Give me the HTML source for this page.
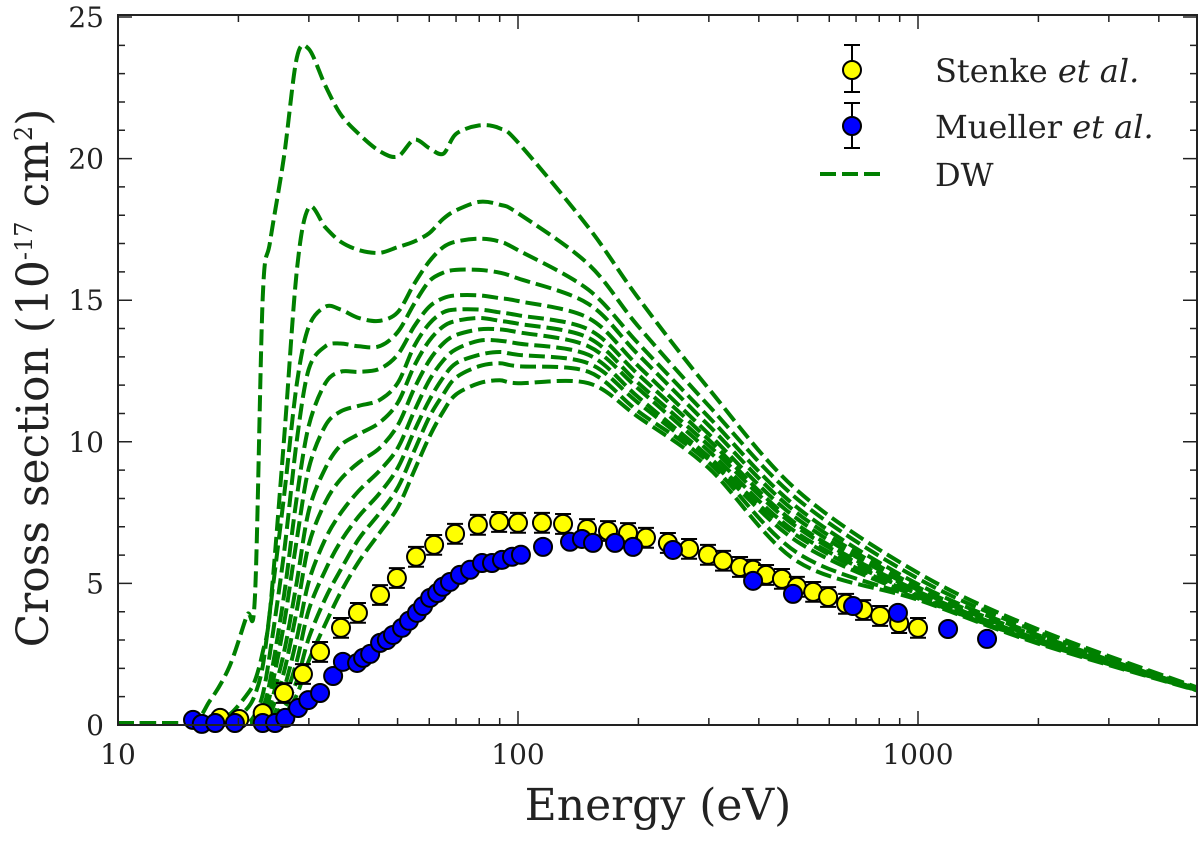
<!DOCTYPE html>
<html><head><meta charset="utf-8"><style>
body{margin:0;background:#fff}
svg text{font-family:"DejaVu Serif","Liberation Serif",serif;fill:#222}
</style></head><body>
<svg id="c" width="1200" height="845" viewBox="0 0 1200 845"></svg>
<script>
const gridE=[10,15,17,19,21,22,23,24,26,28,30,33,36,40,45,50,55,60,65,70,80,90,100,150,200,300,500,1000,2000,5000];
const dwA=[0,0,0.8,2,3.8,4.5,15,17,20,23.5,23.8,22.5,21.5,20.8,20.2,20,20.6,20.3,20.1,20.8,21.1,21,20.5,17.5,15,11.8,8.2,5.3,3.3,1.25];
const dwB=[0,0,0,0.3,1,1.5,2.5,4,10,16,18.2,17.5,17,16.7,16.6,16.8,17,17.3,17.8,18.1,18.4,18.3,18.0,16.2,14,11.2,7.9,5.1,3.2,1.22];
const dwC=[0,0,0,0,0.5,1,2,4,8,12,14,14.7,14.6,14.3,14.2,14.5,15.5,16.3,16.8,17,17.1,17,16.7,15.3,13.4,10.8,7.6,4.9,3.1,1.2];
const dwD=[0,0,0,0,0,0.3,1,2.5,6,10,12.5,13.3,13.4,13.3,13.3,13.8,14.8,15.6,15.9,16,16,15.9,15.7,14.8,13,10.5,7.4,4.8,3.05,1.2];
const dwE=[0,0,0,0,0,0,0.5,1.5,4.5,8,10.5,12,12.4,12.4,12.5,13,14,14.7,15,15.1,15.1,15,14.9,14.3,12.6,10.2,7.2,4.7,3.0,1.18];
const dwF=[0,0,0,0,0,0,0.3,1,3.5,6.5,9,10.5,11,11.2,11.4,12,13.3,14.1,14.5,14.6,14.6,14.5,14.4,13.9,12.3,10,7.0,4.65,2.95,1.18];
const dwG=[0,0,0,0,0,0,0,0.6,2.5,5,7.5,9,9.8,10.2,10.6,11.3,12.6,13.5,14,14.2,14.3,14.2,14.1,13.6,12,9.8,6.9,4.6,2.95,1.17];
const dwH=[0,0,0,0,0,0,0,0.3,1.8,4,6.3,7.8,8.6,9.2,9.7,10.5,11.8,12.8,13.4,13.7,13.9,13.9,13.8,13.3,11.8,9.6,6.7,4.55,2.9,1.16];
const dwI=[0,0,0,0,0,0,0,0,1.2,3,5,6.5,7.4,8.2,8.9,9.7,11,12.1,12.8,13.2,13.5,13.5,13.4,13,11.5,9.4,6.6,4.5,2.9,1.16];
const dwJ=[0,0,0,0,0,0,0,0,0.8,2.2,4,5.4,6.4,7.3,8.1,9,10.3,11.4,12.2,12.7,13,13.1,13,12.7,11.3,9.3,6.4,4.45,2.85,1.15];
const dwK=[0,0,0,0,0,0,0,0,0.5,1.5,3,4.4,5.4,6.5,7.4,8.3,9.6,10.8,11.6,12.2,12.6,12.7,12.6,12.4,11.0,9.2,6.0,4.4,2.85,1.15];
const dwL=[0,0,0,0,0,0,0,0,0.3,1,2.2,3.5,4.6,5.7,6.7,7.6,8.9,10.1,11,11.6,12,12.1,12,12,10.8,9.0,5.7,4.35,2.8,1.14];
const stenkeE=[18,20.1,23,26,29,32,36.1,39.8,45.2,49.8,55.6,61.7,69.6,79.4,89.7,100,114.8,129.6,148.8,167.9,188.4,208.9,237,267.7,298.5,325.5,359,387,417,457,498,547,596,661,729,804,897,1000];
const stenkeV=[0.25,0.21,0.42,1.13,1.8,2.58,3.43,3.96,4.59,5.19,5.94,6.36,6.75,7.07,7.17,7.14,7.14,7.1,6.92,6.85,6.78,6.61,6.43,6.22,6.01,5.8,5.58,5.48,5.3,5.16,4.88,4.7,4.52,4.28,4.06,3.85,3.6,3.43];
const muellerE=[15.4,16.2,17.5,19.6,23,24.7,26.2,28.2,29.9,32,34.5,36.5,39.6,41,42.7,45.2,47,48.7,51.3,53.4,55.9,57.9,60.3,62.8,64.9,67.6,71.6,75.9,81.3,86.1,91.2,96.6,101.7,115.5,134.9,144.5,154,174.8,193.9,244,387,487,688,891,1189,1488];
const muellerV=[0.18,0.04,0.07,0.07,0.07,0.07,0.25,0.6,0.88,1.13,1.73,2.23,2.19,2.37,2.51,2.9,3.0,3.18,3.43,3.68,3.96,4.2,4.49,4.66,4.88,5.05,5.3,5.48,5.72,5.72,5.83,5.94,6.01,6.29,6.47,6.57,6.43,6.43,6.29,6.18,5.09,4.63,4.2,3.96,3.39,3.04];
const yTicks=[0,5,10,15,20,25];
const xTicks=[10,100,1000];
const X0=118,X1=1197,Y0=725,Y1=17;
const sx=e=>X0+400*(Math.log10(e)-1);
const sy=v=>Y0-(Y0-Y1)*v/25;
const svg=document.getElementById('c');const NS='http://www.w3.org/2000/svg';
function mk(t,a,p){const e=document.createElementNS(NS,t);for(const k in a)e.setAttribute(k,a[k]);(p||svg).appendChild(e);return e;}
function smooth(pts){let d='M'+pts[0][0].toFixed(1)+','+pts[0][1].toFixed(1);
 for(let i=0;i<pts.length-1;i++){const p0=pts[Math.max(0,i-1)],p1=pts[i],p2=pts[i+1],p3=pts[Math.min(pts.length-1,i+2)];
  const t=0.16;const c1=[p1[0]+(p2[0]-p0[0])*t,p1[1]+(p2[1]-p0[1])*t],c2=[p2[0]-(p3[0]-p1[0])*t,p2[1]-(p3[1]-p1[1])*t];
  d+=`C${c1[0].toFixed(1)},${c1[1].toFixed(1)} ${c2[0].toFixed(1)},${c2[1].toFixed(1)} ${p2[0].toFixed(1)},${p2[1].toFixed(1)}`;}
 return d;}
const clip=mk('clipPath',{id:'pc'});mk('rect',{x:X0,y:Y1-10,width:X1-X0,height:Y0-Y1+10},clip);
const gC=mk('g',{'clip-path':'url(#pc)'});


[dwA,dwB,dwC,dwD,dwE,dwF,dwG,dwH,dwI,dwJ,dwK,dwL].forEach((s,i)=>{
 const pts=s.map((v,j)=>[sx(gridE[j]),sy(v)-2]);
 const p=mk('path',{d:smooth(pts),fill:'none',stroke:'#008000','stroke-width':4,'stroke-dasharray':'16,6','stroke-linejoin':'round'},gC);
 
 
});
const gS=mk('g',{});


const gM=mk('g',{});


muellerE.forEach((e,i)=>{const c=mk('circle',{cx:sx(e),cy:sy(muellerV[i]),r:9,fill:'#0000ff',stroke:'#000','stroke-width':2},gM);
 
 });
stenkeE.forEach((e,i)=>{const x=sx(e),v=stenkeV[i];if(v>1){const err=0.35,a=sy(v+err),b=sy(v-err);
 mk('path',{d:`M${x},${a}V${b}M${x-8},${a}h16M${x-8},${b}h16`,stroke:'#000','stroke-width':2,fill:'none'},gS);}
 const c=mk('circle',{cx:x,cy:sy(v),r:9,fill:'#ffff00',stroke:'#000','stroke-width':2},gS);
 
 });
const fr=mk('rect',{x:X0,y:Y1-2,width:X1-X0,height:Y0-Y1+2,fill:'none',stroke:'#222','stroke-width':2});


let td='';
for(let dec=10;dec<10000;dec*=10)for(let m=1;m<10;m++){const e=dec*m;const x=sx(e);if(x>X1)break;const L=m===1?14:7;td+=`M${x},${Y0}v${-L}M${x},${Y1-2}v${L}`;}
for(let v=0;v<=25;v++){const y=sy(v);const L=v%5===0?14:7;td+=`M${X0},${y}h${L}M${X1},${y}h${-L}`;}
mk('path',{d:td,stroke:'#222','stroke-width':1.5,fill:'none'});
yTicks.forEach(v=>{const t=mk('text',{x:104,y:sy(v)+10,'text-anchor':'end','font-size':28});t.textContent=v;
 
 });
xTicks.forEach(v=>{const t=mk('text',{x:sx(v),y:764,'text-anchor':'middle','font-size':28});t.textContent=v;
 
 });
</script>
<svg style="position:absolute;left:0;top:0" width="1200" height="845">
<text x="658" y="820" text-anchor="middle" font-size="44">Energy (eV)</text>
<text transform="translate(48,378) rotate(-90)" text-anchor="middle" font-size="44">Cross section (10<tspan dy="-16" font-size="24">-17</tspan><tspan dy="16"> cm</tspan><tspan dy="-16" font-size="24">2</tspan><tspan dy="16">)</tspan></text>
<g>
<path d="M852,45V92M844,45h16M844,92h16M852,103V148M844,103h16M844,148h16" stroke="#000" stroke-width="2"/>
<circle cx="852" cy="70" r="9" fill="#ffff00" stroke="#000" stroke-width="2"/>
<circle cx="852" cy="126" r="9" fill="#0000ff" stroke="#000" stroke-width="2"/>
<path d="M820,174H885" stroke="#008000" stroke-width="4" stroke-dasharray="16,6"/>
<text x="935" y="82" font-size="32">Stenke <tspan font-style="italic">et al.</tspan></text>
<text x="935" y="138" font-size="32">Mueller <tspan font-style="italic">et al.</tspan></text>
<text x="935" y="186" font-size="32">DW</text>
</g>
</svg>
</body></html>
